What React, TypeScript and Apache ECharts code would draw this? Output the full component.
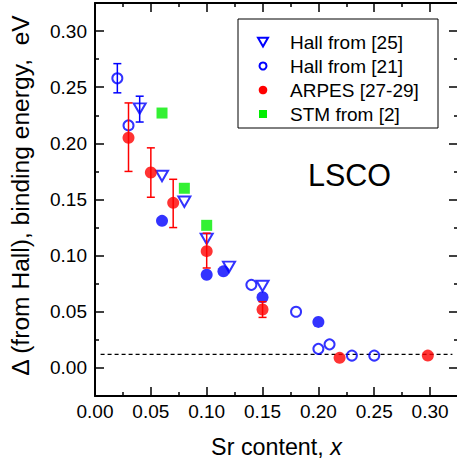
import React, { useEffect, useRef } from "react";
import * as echarts from "echarts";

// ---- data ----
const hall25 = [[0.04, 0.231], [0.06, 0.171], [0.08, 0.148], [0.10, 0.115], [0.12, 0.090], [0.15, 0.073]];
const hall25Err = [[0.04, 0.219, 0.242]];
const hall21Open = [[0.02, 0.258], [0.03, 0.216], [0.14, 0.074], [0.18, 0.050], [0.20, 0.017], [0.21, 0.021], [0.23, 0.011], [0.25, 0.011]];
const hall21OpenErr = [[0.02, 0.245, 0.271]];
const hallFilled = [[0.06, 0.131], [0.10, 0.083], [0.115, 0.086], [0.15, 0.063], [0.20, 0.041]];
const arpes = [[0.03, 0.205], [0.05, 0.174], [0.07, 0.147], [0.10, 0.104], [0.15, 0.052], [0.219, 0.009], [0.298, 0.011]];
const arpesErr = [[0.03, 0.175, 0.236], [0.05, 0.152, 0.196], [0.07, 0.125, 0.168], [0.10, 0.089, 0.120], [0.15, 0.045, 0.059]];
const stm = [[0.06, 0.227], [0.08, 0.160], [0.10, 0.127]];
const gapLine = [[0.005, 0.012], [0.32, 0.012]];

const xMajor = [0, 0.05, 0.1, 0.15, 0.2, 0.25, 0.3];
const xMinor = [0.025, 0.075, 0.125, 0.175, 0.225, 0.275];
const yMajor = [0, 0.05, 0.1, 0.15, 0.2, 0.25, 0.3];
const yMinor = [0.025, 0.075, 0.125, 0.175, 0.225, 0.275];

const legendLabels = ["Hall from [25]", "Hall from [21]", "ARPES [27-29]", "STM from [2]"];

const BLUE = "#0000ff";
const RED = "#ff0000";
const GREEN = "#00ee00";
const FONT = "'Liberation Sans', Arial, sans-serif";
const TRI_DOWN = "path://M0,0 L12,0 L6,10.4 Z";
const SQUARE = "path://M0,0 L10,0 L10,10 L0,10 Z";

function errorBarSeries(data: number[][], color: string, z: number) {
  return {
    type: "custom",
    xAxisIndex: 0,
    yAxisIndex: 0,
    z,
    encode: { x: 0, y: [1, 2] },
    data,
    renderItem: (params: any, api: any) => {
      const x = api.value(0);
      const p1 = api.coord([x, api.value(1)]);
      const p2 = api.coord([x, api.value(2)]);
      const w = 4;
      const style = { stroke: color, lineWidth: 1.5 };
      return {
        type: "group",
        children: [
          { type: "line", shape: { x1: p1[0], y1: p1[1], x2: p2[0], y2: p2[1] }, style },
          { type: "line", shape: { x1: p1[0] - w, y1: p1[1], x2: p1[0] + w, y2: p1[1] }, style },
          { type: "line", shape: { x1: p2[0] - w, y1: p2[1], x2: p2[0] + w, y2: p2[1] }, style },
        ],
      };
    },
  };
}

function axisPair(kind: "x" | "y", pos: string, labels: boolean, extra: any) {
  const major = kind === "x" ? xMajor : yMajor;
  const minor = kind === "x" ? xMinor : yMinor;
  const range = kind === "x" ? { min: 0, max: 0.325 } : { min: -0.025, max: 0.325 };
  const base = {
    type: "value",
    gridIndex: 0,
    position: pos,
    ...range,
    splitLine: { show: false },
  };
  return [
    {
      ...base,
      ...extra,
      axisLine: { show: true, onZero: false, lineStyle: { color: "#000", width: 2 } },
      axisTick: { show: true, inside: true, length: 9, customValues: major, lineStyle: { color: "#000", width: 1.5 } },
      axisLabel: labels
        ? {
            show: true,
            customValues: major,
            formatter: (v: number) => v.toFixed(2),
            fontSize: 19,
            color: "#000",
            fontFamily: FONT,
            margin: kind === "x" ? 6 : 8,
          }
        : { show: false },
    },
    {
      ...base,
      axisLine: { show: false, onZero: false },
      axisTick: { show: true, inside: true, length: 4, customValues: minor, lineStyle: { color: "#000", width: 1.5 } },
      axisLabel: { show: false },
    },
  ];
}

function buildLegend(): any[] {
  const boxX = 238, boxY = 19, boxW = 200, boxH = 109;
  const iconX = 263, textX = 290, row0 = 42, rowStep = 24;
  const els: any[] = [
    {
      type: "rect",
      z: 50,
      shape: { x: boxX, y: boxY, width: boxW, height: boxH },
      style: { fill: "#fff", stroke: "#000", lineWidth: 1 },
    },
  ];
  legendLabels.forEach((label, i) => {
    const cy = row0 + i * rowStep;
    let icon: any;
    if (i === 0) {
      icon = {
        type: "polygon",
        shape: { points: [[iconX - 5, cy - 4.2], [iconX + 5, cy - 4.2], [iconX, cy + 4.4]] },
        style: { fill: "none", stroke: BLUE, lineWidth: 2 },
      };
    } else if (i === 1) {
      icon = { type: "circle", shape: { cx: iconX, cy, r: 3.5 }, style: { fill: "none", stroke: BLUE, lineWidth: 2 } };
    } else if (i === 2) {
      icon = { type: "circle", shape: { cx: iconX, cy, r: 4.3 }, style: { fill: RED } };
    } else {
      icon = { type: "rect", shape: { x: iconX - 4, y: cy - 4, width: 8, height: 8 }, style: { fill: GREEN } };
    }
    icon.z = 51;
    els.push(icon);
    els.push({
      type: "text",
      z: 51,
      x: textX,
      y: cy,
      style: { text: label, fontSize: 19, fill: "#000", fontFamily: FONT, verticalAlign: "middle", align: "left" },
    });
  });
  return els;
}

export default function App() {
  const ref = useRef<HTMLDivElement>(null);
  useEffect(() => {
    if (!ref.current) return;
    const chart = echarts.init(ref.current, undefined, { renderer: "svg" });
    const option: any = {
      animation: false,
      backgroundColor: "#fff",
      textStyle: { fontFamily: FONT },
      grid: { left: 95, top: 3, width: 363, height: 393, containLabel: false, outerBoundsMode: "none" },
      xAxis: [
        ...axisPair("x", "bottom", true, {
          name: "Sr content, {i|x}",
          nameLocation: "middle",
          nameGap: 39,
          nameTextStyle: {
            fontSize: 23.3,
            color: "#000",
            fontFamily: FONT,
            rich: { i: { fontSize: 23.3, fontStyle: "italic", color: "#000", fontFamily: FONT } },
          },
        }),
        ...axisPair("x", "top", false, {}),
      ],
      yAxis: [
        ...axisPair("y", "left", true, {
          name: "\u0394 (from Hall), binding energy, \u00a0eV",
          nameLocation: "middle",
          nameGap: 62,
          nameTextStyle: { fontSize: 24.6, color: "#000", fontFamily: FONT, padding: [0, 0, 0, 8] },
        }),
        ...axisPair("y", "right", false, {}),
      ],
      graphic: [
        {
          type: "text",
          left: 308,
          top: 159,
          style: { text: "LSCO", fontSize: 30.5, fill: "#000", fontFamily: FONT },
        },
        ...buildLegend(),
      ],
      series: [
        {
          type: "line",
          name: "gap",
          data: gapLine,
          symbol: "none",
          lineStyle: { color: "#000", width: 1.3, type: [4, 3] },
          z: 1,
        },
        {
          type: "scatter",
          name: legendLabels[0],
          data: hall25,
          symbol: TRI_DOWN,
          symbolSize: [12, 10.4],
          itemStyle: { color: "rgba(255,255,255,0)", borderColor: BLUE, borderWidth: 2 },
          z: 2,
        },
        errorBarSeries(hall25Err, BLUE, 2),
        {
          type: "scatter",
          name: legendLabels[1],
          data: hall21Open,
          symbol: "circle",
          symbolSize: 10,
          itemStyle: { color: "rgba(255,255,255,0)", borderColor: BLUE, borderWidth: 2 },
          z: 2,
        },
        errorBarSeries(hall21OpenErr, BLUE, 2),
        {
          type: "scatter",
          name: "Hall (filled)",
          data: hallFilled,
          symbol: "circle",
          symbolSize: 12,
          itemStyle: { color: BLUE },
          z: 3,
        },
        errorBarSeries(arpesErr, RED, 4),
        {
          type: "scatter",
          name: legendLabels[2],
          data: arpes,
          symbol: "circle",
          symbolSize: 12,
          itemStyle: { color: RED },
          z: 4,
        },
        {
          type: "scatter",
          name: legendLabels[3],
          data: stm,
          symbol: SQUARE,
          symbolSize: 11,
          itemStyle: { color: GREEN },
          z: 5,
        },
      ],
    };
    chart.setOption(option);
    return () => chart.dispose();
  }, []);
  return (
    <div
      ref={ref}
      style={{ position: "absolute", left: 0, top: 0, width: 457, height: 468, background: "#fff" }}
    />
  );
}
